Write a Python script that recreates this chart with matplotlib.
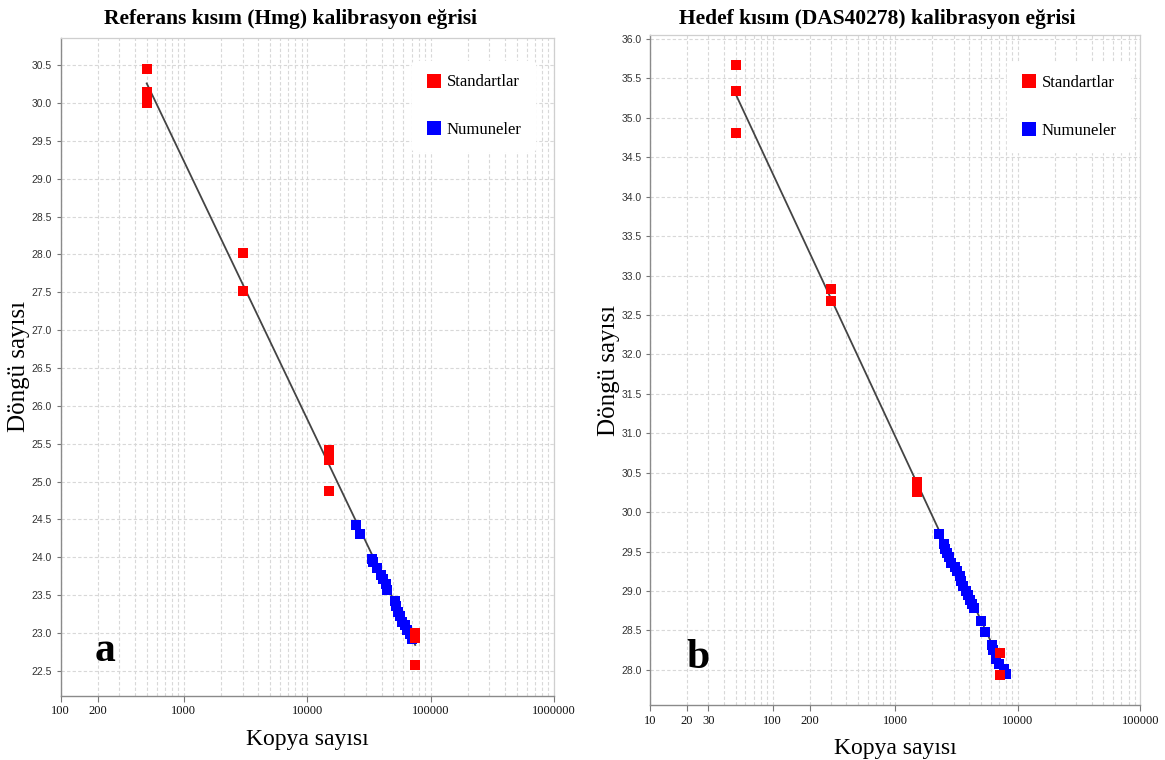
import matplotlib
matplotlib.use('Agg')
import matplotlib.pyplot as plt
from matplotlib.ticker import FixedLocator, FixedFormatter, NullFormatter
from matplotlib.lines import Line2D

# ---------------- data: panel a (Hmg) ----------------
std_x_a = [500, 500, 500, 500, 3000, 3000, 15000, 15000, 15000, 75000, 75000, 75000]
std_y_a = [30.45, 30.15, 30.07, 30.0, 28.02, 27.52, 25.42, 25.28, 24.87, 23.0, 22.93, 22.57]
smp_x_a = [24900, 27000, 33600, 34300, 36600, 39700, 41400, 43100, 44000, 51000,
           52500, 54000, 56000, 58500, 61500, 64200, 67500, 71000]
smp_y_a = [24.43, 24.30, 23.98, 23.94, 23.86, 23.77, 23.71, 23.64, 23.57, 23.42,
           23.35, 23.28, 23.22, 23.15, 23.10, 23.04, 22.99, 22.92]
fit_x_a = [500, 75000]
fit_y_a = [30.26, 22.84]
xticks_a = [100, 200, 1000, 10000, 100000, 1000000]

# ---------------- data: panel b (DAS40278) ----------------
std_x_b = [50, 50, 50, 300, 300, 1500, 1500, 7200, 7200]
std_y_b = [35.67, 35.34, 34.81, 32.83, 32.68, 30.38, 30.25, 28.22, 27.94]
smp_x_b = [2260, 2480, 2560, 2630, 2760, 2860, 3090, 3170, 3350, 3470, 3580, 3770,
           3950, 4070, 4250, 4380, 5000, 5420, 6190, 6300, 6600, 7000, 7650, 8000]
smp_y_b = [29.72, 29.60, 29.53, 29.48, 29.43, 29.36, 29.31, 29.26, 29.19, 29.13, 29.07, 29.00,
           28.95, 28.89, 28.84, 28.78, 28.62, 28.48, 28.31, 28.25, 28.14, 28.07, 28.01, 27.95]
fit_x_b = [50, 8000]
fit_y_b = [35.30, 27.95]
xticks_b = [10, 20, 30, 100, 200, 1000, 10000, 100000]

titles = ["Referans kısım (Hmg) kalibrasyon eğrisi", "Hedef kısım (DAS40278) kalibrasyon eğrisi"]
xlabel = "Kopya sayısı"
ylabel = "Döngü sayısı"
legend_labels = ["Standartlar", "Numuneler"]
panel_letters = ["a", "b"]

RED = '#ff0000'
BLUE = '#0000ff'
SERIF = 'Liberation Serif'
SANS = 'Liberation Sans'

fig = plt.figure(figsize=(11.65, 7.6), dpi=100)
axA = fig.add_axes([60.5 / 1165, 1 - 695.7 / 760, 493.5 / 1165, (695.7 - 38) / 760])
axB = fig.add_axes([650 / 1165, 1 - 705 / 760, 490.4 / 1165, (705 - 35) / 760])


def style(ax, xlim, ylim, majors, yticks):
    ax.set_xscale('log')
    ax.set_xlim(xlim)
    ax.set_ylim(ylim)
    lo, hi = xlim
    minors = []
    d = lo
    while d < hi:
        for k in range(1, 10):
            v = k * d
            if lo < v < hi and v not in majors:
                minors.append(v)
        d *= 10
    ax.xaxis.set_major_locator(FixedLocator(majors))
    ax.xaxis.set_major_formatter(FixedFormatter([str(v) for v in majors]))
    ax.xaxis.set_minor_locator(FixedLocator(minors))
    ax.xaxis.set_minor_formatter(NullFormatter())
    ax.yaxis.set_major_locator(FixedLocator(yticks))
    ax.yaxis.set_major_formatter(FixedFormatter(["%.1f" % v for v in yticks]))
    ax.tick_params(axis='x', which='major', length=4, width=0.8, color='#777777',
                   labelsize=9, labelcolor='#111111', pad=3)
    ax.tick_params(axis='x', which='minor', length=0)
    ax.tick_params(axis='y', which='major', length=3, width=0.8, color='#777777',
                   labelsize=7.5, labelcolor='#333333', pad=3)
    for lbl in ax.get_xticklabels():
        lbl.set_fontfamily(SERIF)
    for lbl in ax.get_yticklabels():
        lbl.set_fontfamily(SANS)
    ax.grid(True, which='both', axis='x', color='#d8d8d8', linestyle=(0, (3, 2)), linewidth=0.8)
    ax.grid(True, which='major', axis='y', color='#d8d8d8', linestyle=(0, (3, 2)), linewidth=0.8)
    ax.set_axisbelow(True)
    for side in ['top', 'right']:
        ax.spines[side].set_color('#cfcfcf')
        ax.spines[side].set_linewidth(0.9)
    for side in ['left', 'bottom']:
        ax.spines[side].set_color('#8a8a8a')
        ax.spines[side].set_linewidth(1.0)
    ax.set_xlabel(xlabel, fontfamily=SERIF, fontsize=17, labelpad=8)
    ax.set_ylabel(ylabel, fontfamily=SERIF, fontsize=18, labelpad=1)


yt_a = [22.5 + 0.5 * i for i in range(17)]
yt_b = [28.0 + 0.5 * i for i in range(17)]
style(axA, (100, 1000000), (22.17, 30.86), xticks_a, yt_a)
style(axB, (10, 100000), (27.555, 36.05), xticks_b, yt_b)

msz = 6.8
for ax, fx, fy, sx, sy, ex, ey in [
        (axA, fit_x_a, fit_y_a, smp_x_a, smp_y_a, std_x_a, std_y_a),
        (axB, fit_x_b, fit_y_b, smp_x_b, smp_y_b, std_x_b, std_y_b)]:
    ax.plot(fx, fy, color='#444444', linewidth=1.3, zorder=2)
    ax.plot(sx, sy, linestyle='none', marker='s', markersize=msz, color=BLUE,
            markeredgewidth=0, zorder=3)
    ax.plot(ex, ey, linestyle='none', marker='s', markersize=msz, color=RED,
            markeredgewidth=0, zorder=4)

handles = [Line2D([], [], linestyle='none', marker='s', markersize=10, color=RED, markeredgewidth=0),
           Line2D([], [], linestyle='none', marker='s', markersize=10, color=BLUE, markeredgewidth=0)]

for ax, anchor, title, tx, letter, lpos in [
        (axA, (0.712, 0.965), titles[0], 290, panel_letters[0], (0.09, 0.068)),
        (axB, (0.728, 0.96), titles[1], 877, panel_letters[1], (0.098, 0.07))]:
    leg = ax.legend(handles, legend_labels, loc='upper left', bbox_to_anchor=anchor,
                    frameon=True, facecolor='white', edgecolor='white', framealpha=1,
                    prop={'family': SERIF, 'size': 12}, labelspacing=1.9,
                    handletextpad=0.3, borderpad=0.8, handlelength=1.0, borderaxespad=0)
    leg.set_zorder(5)
    fig.text(tx / 1165, 1 - 19 / 760, title, ha='center', va='center',
             fontfamily=SERIF, fontweight='bold', fontsize=15.5)
    ax.text(lpos[0], lpos[1], letter, transform=ax.transAxes, ha='center', va='center',
            fontfamily=SERIF, fontweight='bold', fontsize=30, zorder=6)

fig.savefig('out.png', dpi=100)
